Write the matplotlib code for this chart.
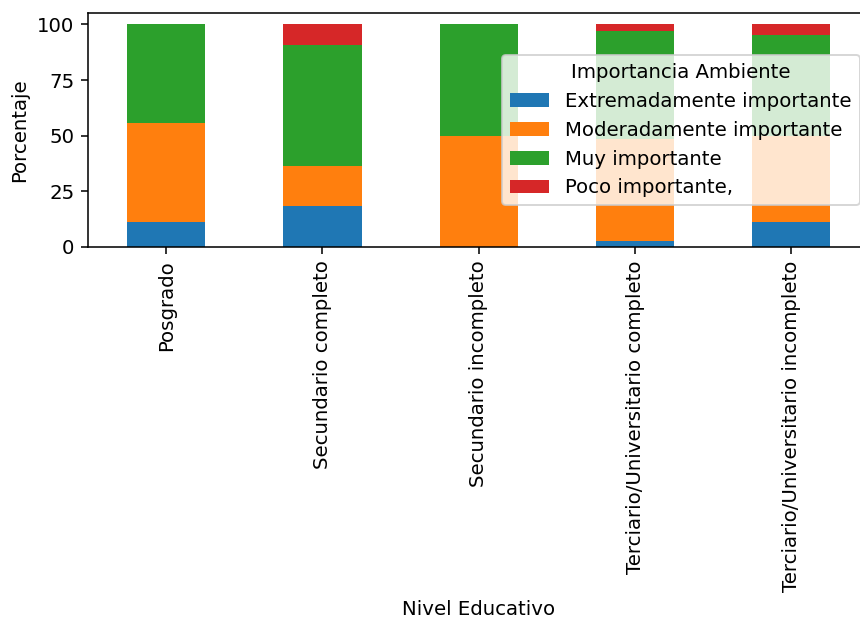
import matplotlib
matplotlib.use("Agg")
import matplotlib.pyplot as plt
import numpy as np

categories = ["Posgrado", "Secundario completo", "Secundario incompleto",
              "Terciario/Universitario completo", "Terciario/Universitario incompleto"]
series_names = ["Extremadamente importante", "Moderadamente importante",
                "Muy importante", "Poco importante,"]
extremadamente = [11.1, 18.2, 0.0, 2.9, 11.1]
moderadamente = [44.4, 18.2, 50.0, 45.7, 38.9]
muy = [44.5, 54.5, 50.0, 48.5, 45.2]
poco = [0.0, 9.1, 0.0, 2.9, 4.8]
colors = ["#1f77b4", "#ff7f0e", "#2ca02c", "#d62728"]

DPI = 140
plt.rcParams["font.size"] = 10.15
plt.rcParams["font.family"] = ["DejaVu Sans"]

fig = plt.figure(figsize=(860 / DPI, 618 / DPI), dpi=DPI)
ax = fig.add_axes([88 / 860, 1 - 247 / 618, (869.5 - 88) / 860, (247 - 13.3) / 618])

x = np.arange(len(categories))
bottom = np.zeros(len(categories))
for name, vals, c in zip(series_names, [extremadamente, moderadamente, muy, poco], colors):
    vals = np.array(vals)
    ax.bar(x, vals, width=0.5, bottom=bottom, color=c, label=name)
    bottom += vals

ax.set_xlim(-0.5, len(categories) - 0.5)
ax.set_ylim(0, 105)
ax.set_yticks([0, 25, 50, 75, 100])
ax.set_xticks(x)
ax.set_xticklabels(categories, rotation=90)
ax.set_xlabel("Nivel Educativo")
ax.set_ylabel("Porcentaje")
ax.legend(title="Importancia Ambiente", loc="center right")

fig.savefig("out.png", dpi=DPI)
